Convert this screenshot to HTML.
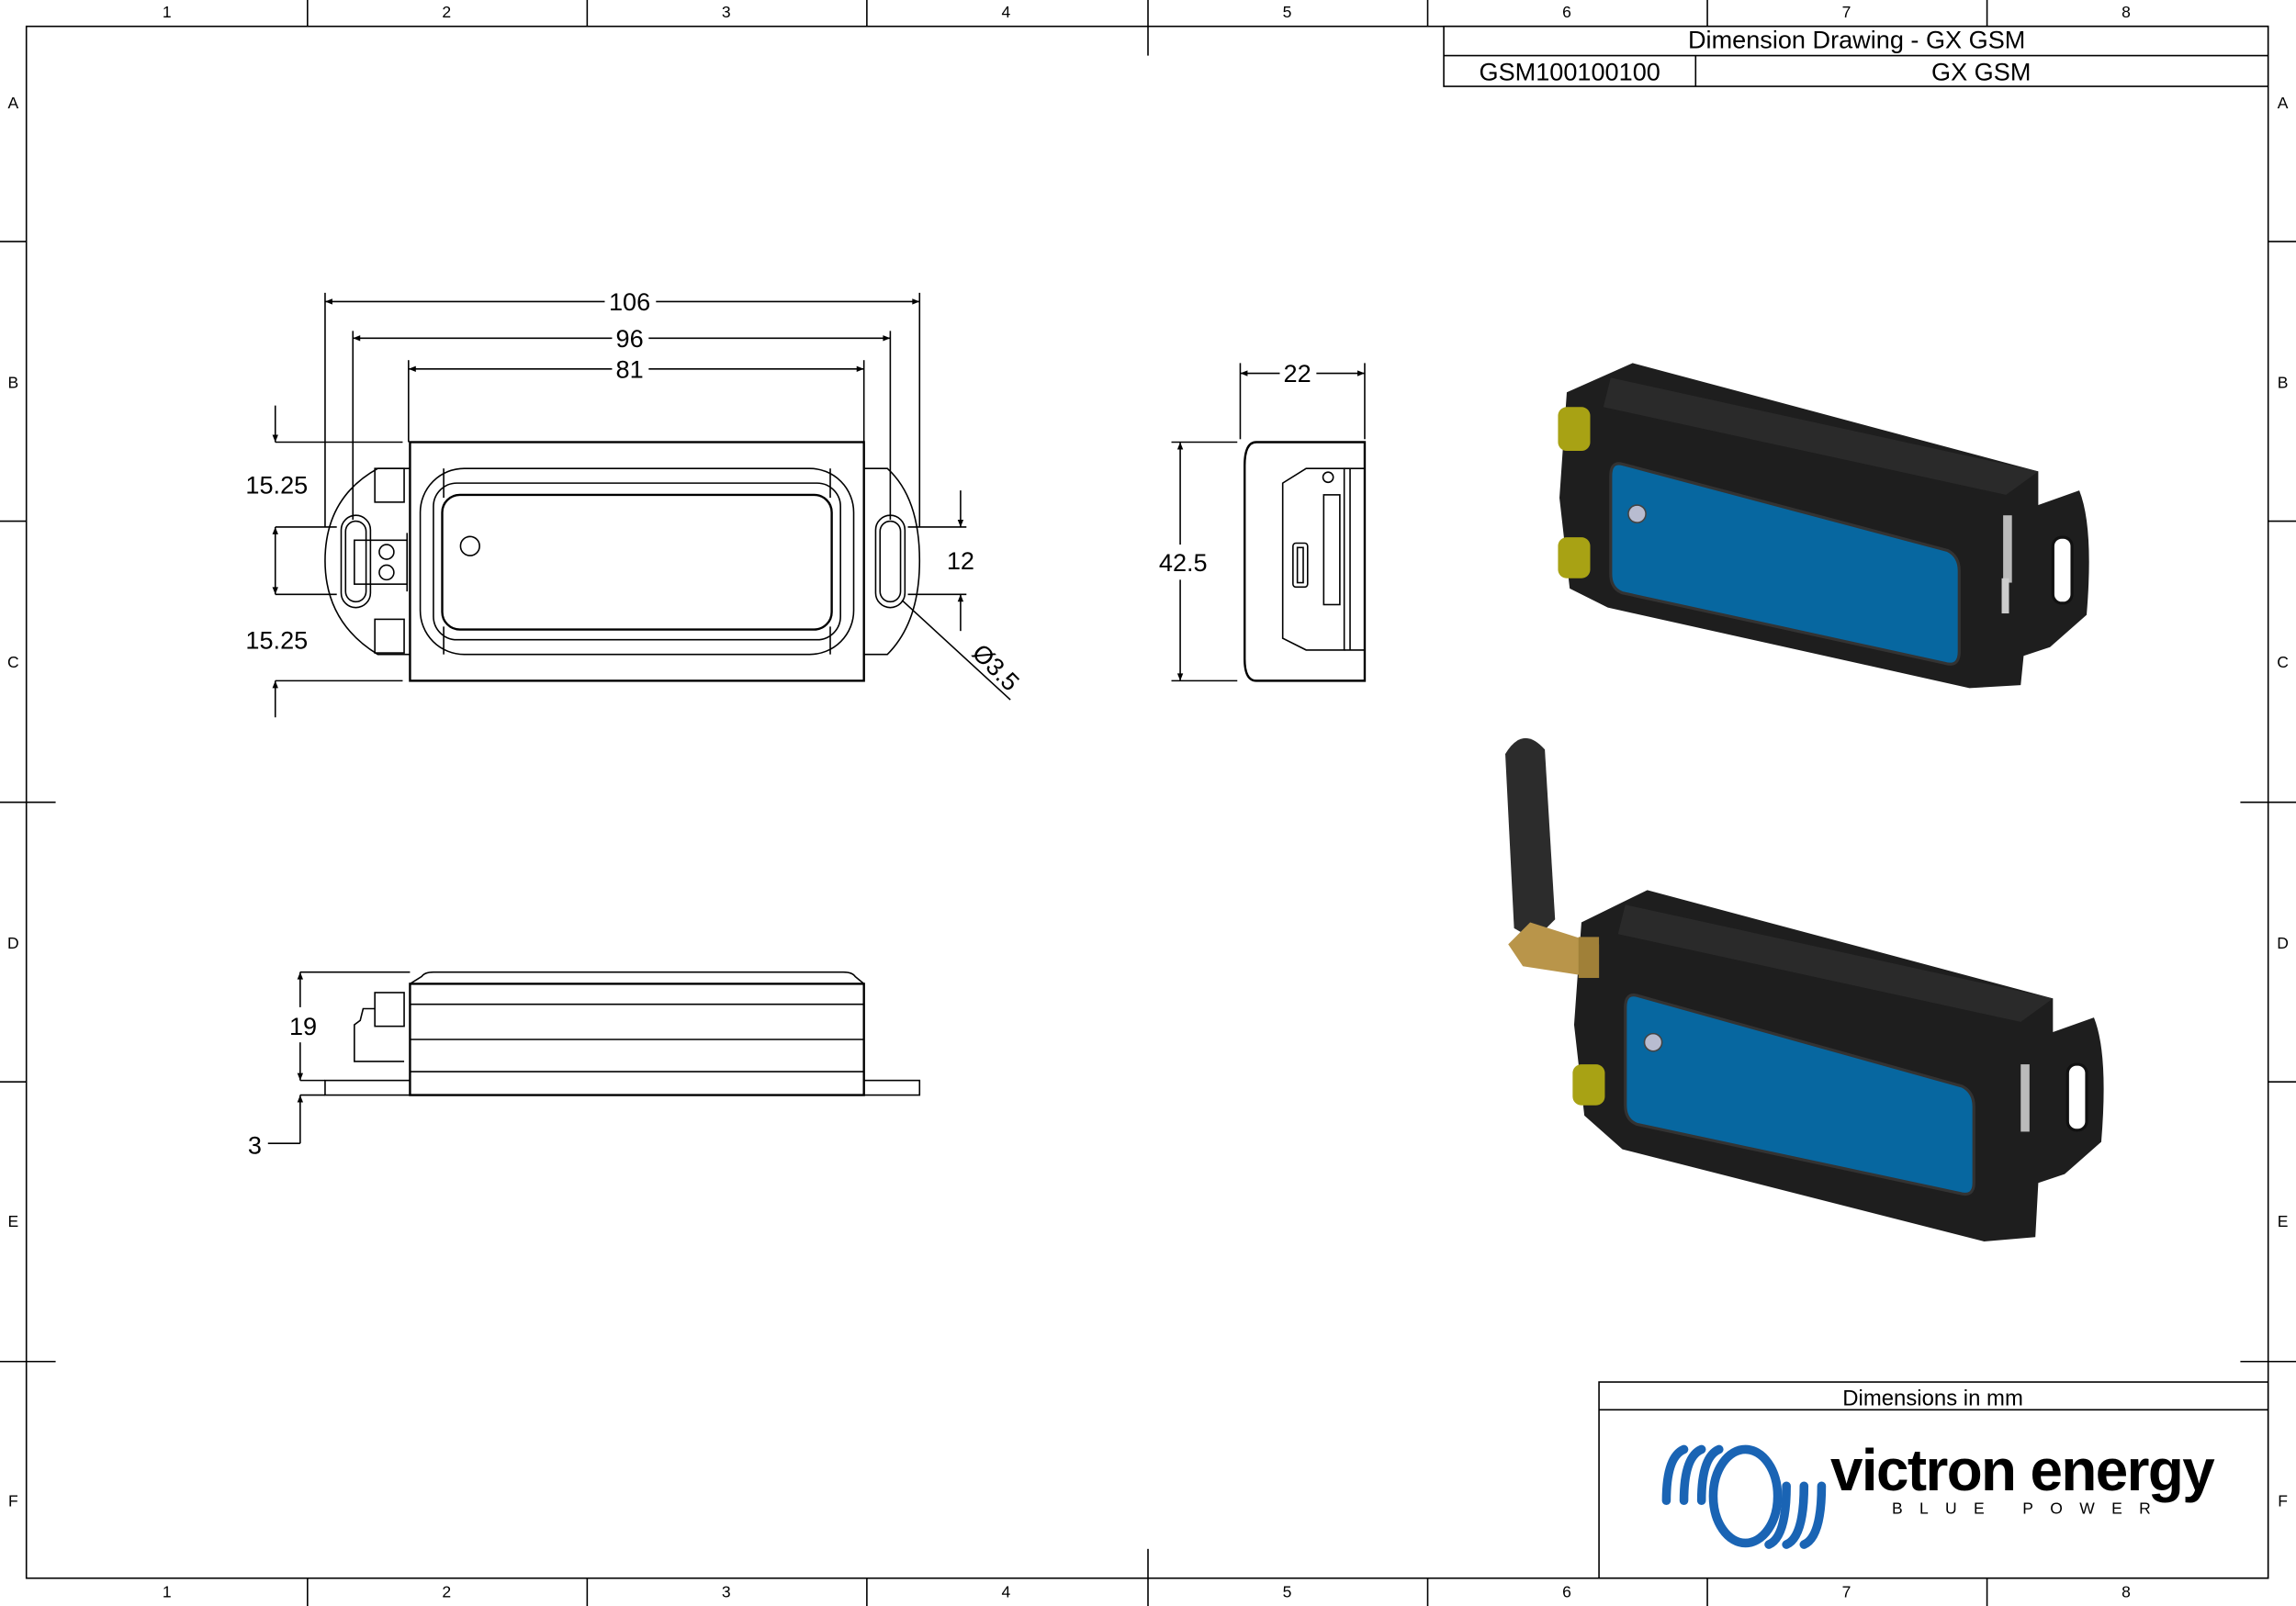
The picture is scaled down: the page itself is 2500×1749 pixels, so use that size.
<!DOCTYPE html>
<html><head><meta charset="utf-8"><style>
html,body{margin:0;padding:0;background:#fff;}
svg{display:block;}
text{font-family:"Liberation Sans",sans-serif;fill:#000;}
</style></head><body>
<svg width="2500" height="1749" viewBox="0 0 1568 1097" preserveAspectRatio="none" xmlns="http://www.w3.org/2000/svg">
<defs>
<marker id="a" viewBox="0 0 10 10" refX="10" refY="5" markerWidth="15" markerHeight="5" orient="auto-start-reverse" markerUnits="userSpaceOnUse"><path d="M0,1 L10,5 L0,9 z" fill="#000"/></marker>
</defs>
<g stroke="#000" fill="none" stroke-width="1">
<rect x="18" y="18" width="1531" height="1060"/>
<g>
<line x1="210" y1="0" x2="210" y2="18"/><line x1="401" y1="0" x2="401" y2="18"/><line x1="592" y1="0" x2="592" y2="18"/><line x1="784" y1="0" x2="784" y2="38"/><line x1="975" y1="0" x2="975" y2="18"/><line x1="1166" y1="0" x2="1166" y2="18"/><line x1="1357" y1="0" x2="1357" y2="18"/>
<line x1="210" y1="1078" x2="210" y2="1097"/><line x1="401" y1="1078" x2="401" y2="1097"/><line x1="592" y1="1078" x2="592" y2="1097"/><line x1="784" y1="1058" x2="784" y2="1097"/><line x1="975" y1="1078" x2="975" y2="1097"/><line x1="1166" y1="1078" x2="1166" y2="1097"/><line x1="1357" y1="1078" x2="1357" y2="1097"/>
<line x1="0" y1="165" x2="18" y2="165"/><line x1="0" y1="356" x2="18" y2="356"/><line x1="0" y1="548" x2="38" y2="548"/><line x1="0" y1="739" x2="18" y2="739"/><line x1="0" y1="930" x2="38" y2="930"/>
<line x1="1549" y1="165" x2="1568" y2="165"/><line x1="1549" y1="356" x2="1568" y2="356"/><line x1="1530" y1="548" x2="1568" y2="548"/><line x1="1549" y1="739" x2="1568" y2="739"/><line x1="1530" y1="930" x2="1568" y2="930"/>
</g>
<rect x="986" y="18" width="563" height="41"/><line x1="986" y1="38" x2="1549" y2="38"/><line x1="1158" y1="38" x2="1158" y2="59"/>
<rect x="1092" y="944" width="457" height="134"/><line x1="1092" y1="963" x2="1549" y2="963"/>

<rect x="280" y="302" width="310" height="163" stroke-width="1.5"/>
<path d="M280,320 L258,320 Q222,340 222,383 Q222,425 258,447 L280,447"/>
<path d="M590,320 L606,320 Q628,340 628,383 Q628,425 606,447 L590,447"/>
<rect x="287" y="320" width="296" height="127" rx="30"/>
<rect x="296" y="330" width="278" height="107" rx="16"/>
<rect x="302" y="338" width="266" height="92" rx="12" stroke-width="1.5"/>
<line x1="303" y1="320" x2="303" y2="340"/><line x1="567" y1="320" x2="567" y2="340"/>
<line x1="303" y1="428" x2="303" y2="447"/><line x1="567" y1="428" x2="567" y2="447"/>
<circle cx="321" cy="373" r="6.5"/>
<rect x="233" y="352" width="20" height="63" rx="10"/><rect x="236" y="356" width="14" height="55" rx="7"/>
<rect x="598" y="352" width="20" height="63" rx="10"/><rect x="601" y="356" width="14" height="55" rx="7"/>
<rect x="256" y="320" width="20" height="23"/><rect x="256" y="423" width="20" height="23"/>
<rect x="242" y="369" width="36" height="30"/><circle cx="264" cy="377" r="5"/><circle cx="264" cy="391" r="5"/>
<line x1="278" y1="364" x2="278" y2="404"/>
<line x1="222" y1="200" x2="222" y2="360"/><line x1="628" y1="200" x2="628" y2="360"/>
<line x1="241" y1="226" x2="241" y2="355"/><line x1="608" y1="226" x2="608" y2="355"/>
<line x1="279" y1="246" x2="279" y2="302"/><line x1="590" y1="246" x2="590" y2="302"/>
<line x1="222" y1="206" x2="413" y2="206" marker-start="url(#a)"/><line x1="448" y1="206" x2="628" y2="206" marker-end="url(#a)"/>
<line x1="241" y1="231" x2="418" y2="231" marker-start="url(#a)"/><line x1="443" y1="231" x2="608" y2="231" marker-end="url(#a)"/>
<line x1="279" y1="252" x2="418" y2="252" marker-start="url(#a)"/><line x1="443" y1="252" x2="590" y2="252" marker-end="url(#a)"/>
<line x1="188" y1="302" x2="275" y2="302"/><line x1="188" y1="465" x2="275" y2="465"/>
<line x1="188" y1="360" x2="230" y2="360"/><line x1="188" y1="406" x2="230" y2="406"/>
<line x1="188" y1="277" x2="188" y2="302" marker-end="url(#a)"/>
<line x1="188" y1="490" x2="188" y2="465" marker-end="url(#a)"/>
<line x1="188" y1="360" x2="188" y2="406" marker-start="url(#a)" marker-end="url(#a)"/>
<line x1="620" y1="360" x2="660" y2="360"/><line x1="620" y1="406" x2="660" y2="406"/>
<line x1="656" y1="335" x2="656" y2="360" marker-end="url(#a)"/>
<line x1="656" y1="431" x2="656" y2="406" marker-end="url(#a)"/>
<line x1="616" y1="410" x2="690" y2="478"/>

<path d="M858,302 L932,302 L932,465 L858,465 Q850,465 850,450 L850,318 Q850,302 858,302 z" stroke-width="1.5"/>
<path d="M876,330 L892,320 L918,320 L918,444 L892,444 L876,436 z"/>
<line x1="918" y1="320" x2="932" y2="320"/><line x1="918" y1="444" x2="932" y2="444"/>
<line x1="922" y1="320" x2="922" y2="444"/>
<rect x="904" y="338" width="11" height="75"/><circle cx="907" cy="326" r="3.5"/>
<rect x="883" y="371" width="10" height="30" rx="2"/><rect x="886" y="374" width="4" height="24"/>
<line x1="847" y1="248" x2="847" y2="300"/><line x1="932" y1="248" x2="932" y2="300"/>
<line x1="847" y1="255" x2="874" y2="255" marker-start="url(#a)"/><line x1="899" y1="255" x2="932" y2="255" marker-end="url(#a)"/>
<line x1="800" y1="302" x2="845" y2="302"/><line x1="800" y1="465" x2="845" y2="465"/>
<line x1="806" y1="302" x2="806" y2="372" marker-start="url(#a)"/><line x1="806" y1="396" x2="806" y2="465" marker-end="url(#a)"/>

<path d="M280,672 L288,667 Q290,664 296,664 L576,664 Q582,664 584,667 L590,672"/>
<rect x="280" y="672" width="310" height="76" stroke-width="1.5"/>
<line x1="280" y1="686" x2="590" y2="686"/><line x1="280" y1="710" x2="590" y2="710"/><line x1="280" y1="732" x2="590" y2="732"/>
<rect x="222" y="738" width="58" height="10"/><rect x="590" y="738" width="38" height="10"/>
<rect x="256" y="678" width="20" height="23"/>
<path d="M256,689 L248,689 L246,697 L242,700 L242,725 L276,725"/>
<line x1="205" y1="664" x2="280" y2="664"/><line x1="205" y1="738" x2="222" y2="738"/><line x1="205" y1="748" x2="222" y2="748"/>
<line x1="205" y1="664" x2="205" y2="688" marker-start="url(#a)"/><line x1="205" y1="712" x2="205" y2="738" marker-end="url(#a)"/>
<line x1="205" y1="781" x2="205" y2="748" marker-end="url(#a)"/><line x1="183" y1="781" x2="205" y2="781"/>
</g>

<g font-size="11" text-anchor="middle">
<text x="114" y="12">1</text><text x="305" y="12">2</text><text x="496" y="12">3</text><text x="687" y="12">4</text><text x="879" y="12">5</text><text x="1070" y="12">6</text><text x="1261" y="12">7</text><text x="1452" y="12">8</text>
<text x="114" y="1091">1</text><text x="305" y="1091">2</text><text x="496" y="1091">3</text><text x="687" y="1091">4</text><text x="879" y="1091">5</text><text x="1070" y="1091">6</text><text x="1261" y="1091">7</text><text x="1452" y="1091">8</text>
<text x="9" y="74">A</text><text x="9" y="265">B</text><text x="9" y="456">C</text><text x="9" y="648">D</text><text x="9" y="838">E</text><text x="9" y="1029">F</text>
<text x="1559" y="74">A</text><text x="1559" y="265">B</text><text x="1559" y="456">C</text><text x="1559" y="648">D</text><text x="1559" y="838">E</text><text x="1559" y="1029">F</text>
</g>
<g font-size="17" text-anchor="middle">
<text x="1268" y="33">Dimension Drawing - GX GSM</text>
<text x="1072" y="55">GSM100100100</text>
<text x="1353" y="55">GX GSM</text>
<text x="1320" y="960" font-size="15">Dimensions in mm</text>
<text x="430" y="212">106</text><text x="430" y="237">96</text><text x="430" y="258">81</text>
<text x="189" y="337">15.25</text><text x="189" y="443">15.25</text>
<text x="656" y="389">12</text>
<text x="886" y="261">22</text>
<text x="808" y="390">42.5</text>
<text x="207" y="707">19</text>
<text x="174" y="788">3</text>
<text x="0" y="0" transform="translate(676,460) rotate(45)">Ø3.5</text>
</g>

<g fill="none" stroke="#1a64b4" stroke-width="6" stroke-linecap="round">
<path d="M1138,1025 Q1138,995 1150,990"/>
<path d="M1150,1025 Q1150,995 1162,990"/>
<path d="M1162,1025 Q1162,995 1174,990"/>
<ellipse cx="1192" cy="1022" rx="22" ry="32"/>
<path d="M1208,1055 Q1220,1050 1220,1015"/>
<path d="M1220,1055 Q1232,1050 1232,1015"/>
<path d="M1232,1055 Q1244,1050 1244,1015"/>
</g>
<text x="1250" y="1018" font-size="40" font-weight="bold" fill="#222" style="letter-spacing:-1px">victron energy</text>
<text x="1292" y="1034" font-size="11" style="letter-spacing:11.5px">BLUE POWER</text>

<g>
<path d="M1070,268 L1115,248 L1392,322 L1392,345 L1420,335 Q1430,360 1425,420 L1400,442 L1382,448 L1380,468 L1345,470 L1098,415 L1072,402 L1065,340 Z" fill="#1e1e1e"/>
<path d="M1100,258 L1392,322 L1370,338 L1095,278 Z" fill="#2a2a2a"/>
<rect x="1402" y="367" width="13" height="45" rx="6" fill="#fff" stroke="#111" stroke-width="2"/>
<path d="M1108,317 L1330,376 Q1338,380 1338,390 L1338,445 Q1338,456 1328,453 L1108,405 Q1100,402 1100,392 L1100,325 Q1100,315 1108,317 Z" fill="#0767a0" stroke="#333" stroke-width="2"/>
<ellipse cx="1118" cy="351" rx="6" ry="6" fill="#b8bcd0" stroke="#444"/>
<rect x="1064" y="278" width="22" height="30" rx="6" fill="#a8a214"/>
<rect x="1064" y="367" width="22" height="28" rx="6" fill="#a8a214"/>
<rect x="1368" y="352" width="6" height="46" fill="#bbb"/>
<rect x="1367" y="395" width="5" height="24" fill="#ccc"/>
</g>
<g>
<path d="M1080,630 L1125,608 L1402,682 L1402,705 L1430,695 Q1440,720 1435,780 L1410,802 L1392,808 L1390,845 L1355,848 L1108,785 L1082,762 L1075,700 Z" fill="#1e1e1e"/>
<path d="M1110,618 L1402,682 L1380,698 L1105,638 Z" fill="#2a2a2a"/>
<rect x="1412" y="727" width="13" height="45" rx="6" fill="#fff" stroke="#111" stroke-width="2"/>
<path d="M1118,680 L1340,742 Q1348,746 1348,756 L1348,808 Q1348,818 1338,815 L1118,768 Q1110,765 1110,755 L1110,688 Q1110,678 1118,680 Z" fill="#0767a0" stroke="#333" stroke-width="2"/>
<ellipse cx="1129" cy="712" rx="6" ry="6" fill="#b8bcd0" stroke="#444"/>
<rect x="1074" y="727" width="22" height="28" rx="6" fill="#a8a214"/>
<rect x="1380" y="727" width="6" height="46" fill="#bbb"/>
<path d="M1028,515 Q1040,495 1055,512 L1062,628 L1048,642 L1034,634 Z" fill="#2c2c2c"/>
<path d="M1030,645 L1045,630 L1092,645 L1092,668 L1040,660 Z" fill="#b9954a"/>
<rect x="1078" y="640" width="14" height="28" fill="#a08038"/>
</g>
</svg>
</body></html>
